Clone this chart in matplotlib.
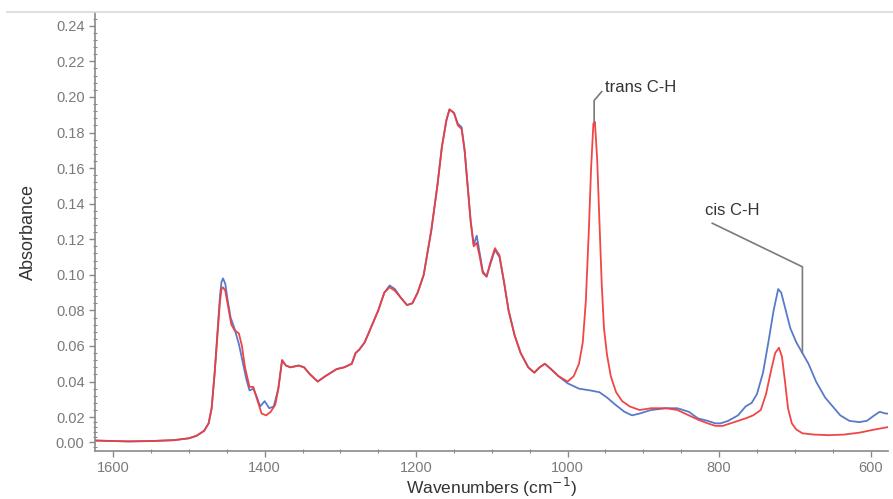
import numpy as np
import matplotlib
matplotlib.use("Agg")
import matplotlib.pyplot as plt
from matplotlib.ticker import MultipleLocator, FormatStrFormatter
from matplotlib.lines import Line2D

plt.rcParams['font.family'] = ['Liberation Sans', 'DejaVu Sans']

# blue spectrum (wavenumber, absorbance)
wn_blue = [1624, 1600, 1580, 1550, 1520, 1500, 1490, 1480, 1474, 1470, 1466, 1462, 1459, 1457,
           1455, 1452, 1449, 1445, 1440, 1434, 1429, 1424, 1420, 1415, 1411, 1406, 1400, 1394, 1388,
           1382, 1377, 1372, 1366, 1355, 1348, 1340, 1330, 1320, 1305, 1295, 1285, 1280, 1275,
           1268, 1260, 1250, 1242, 1235, 1228, 1220, 1212, 1205, 1198, 1190, 1180, 1172, 1166,
           1160, 1156, 1150, 1145, 1140, 1136, 1132, 1128, 1124, 1120, 1116, 1112, 1107, 1102,
           1096, 1090, 1084, 1078, 1070, 1062, 1052, 1044, 1037, 1030, 1022, 1012, 1000,
           985, 970, 958, 948, 937, 925, 915, 905, 890, 870, 855, 840, 828, 815, 805, 798, 788,
           775, 765, 757, 750, 742, 735, 728, 722, 718, 712, 706, 698, 690, 682, 672, 660, 650,
           640, 628, 615, 605, 595, 588, 580, 577]
abs_blue = [0.0012, 0.0008, 0.0005, 0.0008, 0.0015, 0.0030, 0.005, 0.009, 0.015, 0.025, 0.045,
            0.070, 0.088, 0.096, 0.098, 0.095, 0.086, 0.076, 0.070, 0.061, 0.051, 0.041, 0.035, 0.036,
            0.032, 0.026, 0.029, 0.025, 0.026, 0.036, 0.052, 0.049, 0.048, 0.049, 0.048, 0.044,
            0.040, 0.043, 0.047, 0.048, 0.050, 0.056, 0.058, 0.062, 0.070, 0.080, 0.090, 0.094,
            0.092, 0.087, 0.083, 0.084, 0.090, 0.100, 0.125, 0.150, 0.172, 0.187, 0.193, 0.191,
            0.185, 0.183, 0.170, 0.150, 0.130, 0.117, 0.122, 0.112, 0.102, 0.099, 0.106, 0.114,
            0.110, 0.096, 0.080, 0.066, 0.056, 0.048, 0.045, 0.048, 0.050, 0.047, 0.043, 0.039,
            0.036, 0.035, 0.034, 0.031, 0.027, 0.023, 0.021, 0.022, 0.024, 0.025, 0.025, 0.023,
            0.019, 0.017, 0.015, 0.015, 0.017, 0.021, 0.026, 0.028, 0.033, 0.045, 0.062, 0.080,
            0.092, 0.090, 0.080, 0.070, 0.062, 0.056, 0.050, 0.040, 0.031, 0.026, 0.021, 0.017,
            0.016, 0.017, 0.021, 0.023, 0.022, 0.022]

# red spectrum (wavenumber, absorbance)
wn_red = [1624, 1600, 1580, 1550, 1520, 1500, 1490, 1480, 1474, 1470, 1466, 1462, 1459, 1457,
          1455, 1452, 1449, 1444, 1440, 1434, 1430, 1426, 1420, 1415, 1410, 1404, 1398, 1392, 1386,
          1382, 1377, 1372, 1366, 1355, 1348, 1340, 1330, 1320, 1305, 1295, 1285, 1280, 1275,
          1268, 1260, 1250, 1242, 1235, 1228, 1220, 1212, 1205, 1198, 1190, 1180, 1172, 1166,
          1160, 1156, 1150, 1145, 1140, 1136, 1132, 1128, 1124, 1120, 1116, 1112, 1107, 1102,
          1096, 1090, 1084, 1078, 1070, 1062, 1052, 1044, 1037, 1030, 1022, 1012, 1000,
          992, 985, 980, 976, 972, 969, 966, 964, 961, 958, 955, 952, 948, 943, 936, 928, 918,
          905, 890, 870, 855, 840, 828, 815, 805, 795, 785, 775, 765, 755, 745, 738, 732, 726,
          721, 717, 713, 709, 704, 698, 690, 675, 655, 635, 615, 595, 577]
abs_red = [0.0012, 0.0008, 0.0005, 0.0008, 0.0015, 0.0030, 0.005, 0.009, 0.015, 0.025, 0.045,
           0.068, 0.085, 0.092, 0.093, 0.091, 0.084, 0.072, 0.069, 0.067, 0.060, 0.048, 0.037, 0.037,
           0.030, 0.022, 0.021, 0.023, 0.027, 0.036, 0.052, 0.049, 0.048, 0.049, 0.048, 0.044,
           0.040, 0.043, 0.047, 0.048, 0.050, 0.056, 0.058, 0.062, 0.070, 0.080, 0.090, 0.093,
           0.091, 0.087, 0.083, 0.084, 0.090, 0.100, 0.125, 0.150, 0.172, 0.187, 0.193, 0.191,
           0.184, 0.182, 0.170, 0.150, 0.130, 0.116, 0.118, 0.110, 0.101, 0.099, 0.107, 0.115,
           0.111, 0.096, 0.080, 0.066, 0.056, 0.048, 0.045, 0.048, 0.050, 0.047, 0.043, 0.040,
           0.043, 0.050, 0.062, 0.085, 0.125, 0.160, 0.185, 0.186, 0.165, 0.130, 0.095, 0.070,
           0.055, 0.043, 0.034, 0.029, 0.026, 0.024, 0.025, 0.025, 0.024, 0.021, 0.018, 0.015,
           0.013, 0.013, 0.015, 0.017, 0.019, 0.021, 0.024, 0.033, 0.045, 0.056, 0.059, 0.054,
           0.040, 0.025, 0.015, 0.010, 0.007, 0.006, 0.0055, 0.006, 0.0075, 0.010, 0.012]

x_ticks = [1600, 1400, 1200, 1000, 800, 600]
y_ticks = [0.00, 0.02, 0.04, 0.06, 0.08, 0.10, 0.12, 0.14, 0.16, 0.18, 0.20, 0.22, 0.24]

trans_label = "trans C-H"
trans_leader_x = [965, 965, 955]
trans_leader_y = [0.186, 0.198, 0.203]
cis_label = "cis C-H"
cis_leader_x = [809, 690, 690]
cis_leader_y = [0.129, 0.1045, 0.056]


# the lowest band (0.00-0.02) is squeezed in the original chart
def fwd(v):
    v = np.asarray(v, dtype=float)
    return np.where(v >= 0.02, v, 0.02 + (v - 0.02) * 0.70)


def inv(u):
    u = np.asarray(u, dtype=float)
    return np.where(u >= 0.02, u, 0.02 + (u - 0.02) / 0.70)


fig = plt.figure(figsize=(8.93, 4.99), dpi=100)
ax = fig.add_axes([0.1064, 0.0962, 0.888, 0.8778])

ax.plot(wn_blue, abs_blue, color='#4f73c8', lw=1.3, alpha=0.95)
ax.plot(wn_red, abs_red, color='#f03c3c', lw=1.3, alpha=0.95)

ax.set_yscale('function', functions=(fwd, inv))
ax.set_xlim(1624, 577)
ax.set_ylim(-0.0072, 0.2472)

ax.set_xticks(x_ticks)
ax.xaxis.set_minor_locator(MultipleLocator(50))
ax.set_yticks(y_ticks)
ax.yaxis.set_minor_locator(MultipleLocator(0.004))
ax.yaxis.set_major_formatter(FormatStrFormatter('%.2f'))

for s in ['top', 'right']:
    ax.spines[s].set_visible(False)
for s in ['left', 'bottom']:
    ax.spines[s].set_color('#8a8a8a')
    ax.spines[s].set_linewidth(1.2)

ax.tick_params(axis='both', which='major', direction='out', length=4, width=1,
               color='#8a8a8a', labelcolor='#7a7a7a', labelsize=10.5)
ax.tick_params(axis='both', which='minor', direction='inout', length=3, width=0.8,
               color='#8a8a8a')
ax.tick_params(axis='x', which='major', pad=3)

ax.set_xlabel("Wavenumbers (cm$^{-1}$)", fontsize=12.5, color='#333333')
ax.set_ylabel("Absorbance", fontsize=13, color='#333333')
ax.xaxis.set_label_coords(0.5, -0.057)
ax.yaxis.set_label_coords(-0.073, 0.5)

# annotations
ax.plot(trans_leader_x, trans_leader_y, color='#7a7a7a', lw=1.2)
ax.text(951, 0.2055, trans_label, fontsize=12, color='#333333', va='center', ha='left')
ax.plot(cis_leader_x, cis_leader_y, color='#7a7a7a', lw=1.2)
ax.text(783, 0.136, cis_label, fontsize=12, color='#333333', va='center', ha='center')

# thin rule along the top of the picture
fig.add_artist(Line2D([7 / 893, 1.0], [1 - 12 / 499, 1 - 12 / 499],
                      color='#d8d8d8', lw=1.2, transform=fig.transFigure))

fig.savefig("out.png", dpi=100)
